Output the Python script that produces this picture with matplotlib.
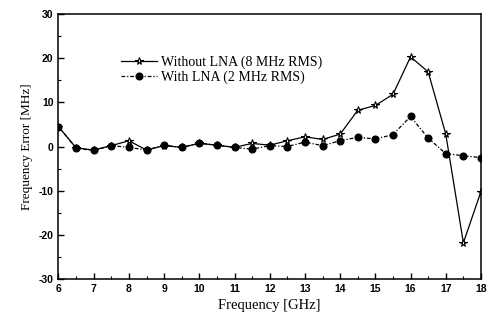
import matplotlib
matplotlib.use("Agg")
import matplotlib.pyplot as plt
from matplotlib.ticker import MultipleLocator

plt.rcParams['axes.unicode_minus'] = False

freq = [6, 6.5, 7, 7.5, 8, 8.5, 9, 9.5, 10, 10.5, 11, 11.5, 12, 12.5, 13, 13.5,
        14, 14.5, 15, 15.5, 16, 16.5, 17, 17.5, 18]
without_lna = [4.5, -0.3, -0.8, 0.2, 1.3, -0.8, 0.2, -0.2, 0.7, 0.3, -0.2, 0.7,
               0.3, 1.3, 2.2, 1.6, 2.8, 8.2, 9.3, 11.8, 20.3, 16.9, 2.8, -21.8, -10.2]
with_lna = [4.5, -0.4, -0.9, 0.2, -0.2, -0.8, 0.3, -0.2, 0.8, 0.3, -0.2, -0.6,
            0.2, 0.0, 1.0, 0.2, 1.3, 2.1, 1.7, 2.7, 6.8, 1.9, -1.6, -2.1, -2.5]
labels = ["Without LNA (8 MHz RMS)", "With LNA (2 MHz RMS)"]

fig = plt.figure(figsize=(4.89, 3.22), dpi=100)
ax = fig.add_axes([0.1196, 0.1335, 0.8640, 0.8230])

ax.plot(freq, without_lna, '-', color='black', lw=0.9, marker='*', ms=5.5,
        mfc='white', mec='black', mew=0.8, label=labels[0])
ax.plot(freq, with_lna, color='black', lw=0.9, linestyle=(0, (3, 1.5, 1, 1.5)),
        marker='o', ms=4.8, mfc='black', mec='black', label=labels[1])

ax.set_xlim(6, 18)
ax.set_ylim(-30, 30)
ax.xaxis.set_major_locator(MultipleLocator(1))
ax.xaxis.set_minor_locator(MultipleLocator(0.5))
ax.yaxis.set_major_locator(MultipleLocator(10))
ax.yaxis.set_minor_locator(MultipleLocator(5))
ax.tick_params(which='both', direction='in', top=False, right=False)
ax.tick_params(which='major', length=4, width=1)
ax.tick_params(which='minor', length=2.5, width=0.8)
for lab in ax.get_xticklabels() + ax.get_yticklabels():
    lab.set_family('Liberation Sans')
    lab.set_fontweight('bold')
    lab.set_fontsize(7.5)
for s in ax.spines.values():
    s.set_linewidth(1.1)

ax.set_xlabel("Frequency [GHz]", family='Liberation Serif', fontsize=10.5)
ax.set_ylabel("Frequency Error [MHz]", family='Liberation Serif', fontsize=9.5)

leg = ax.legend(loc='upper left', bbox_to_anchor=(0.135, 0.865), frameon=False,
                prop={'family': 'Liberation Serif', 'size': 10},
                handlelength=2.6, handletextpad=0.3, labelspacing=0.15,
                borderaxespad=0)

fig.savefig("out.png", dpi=100)
